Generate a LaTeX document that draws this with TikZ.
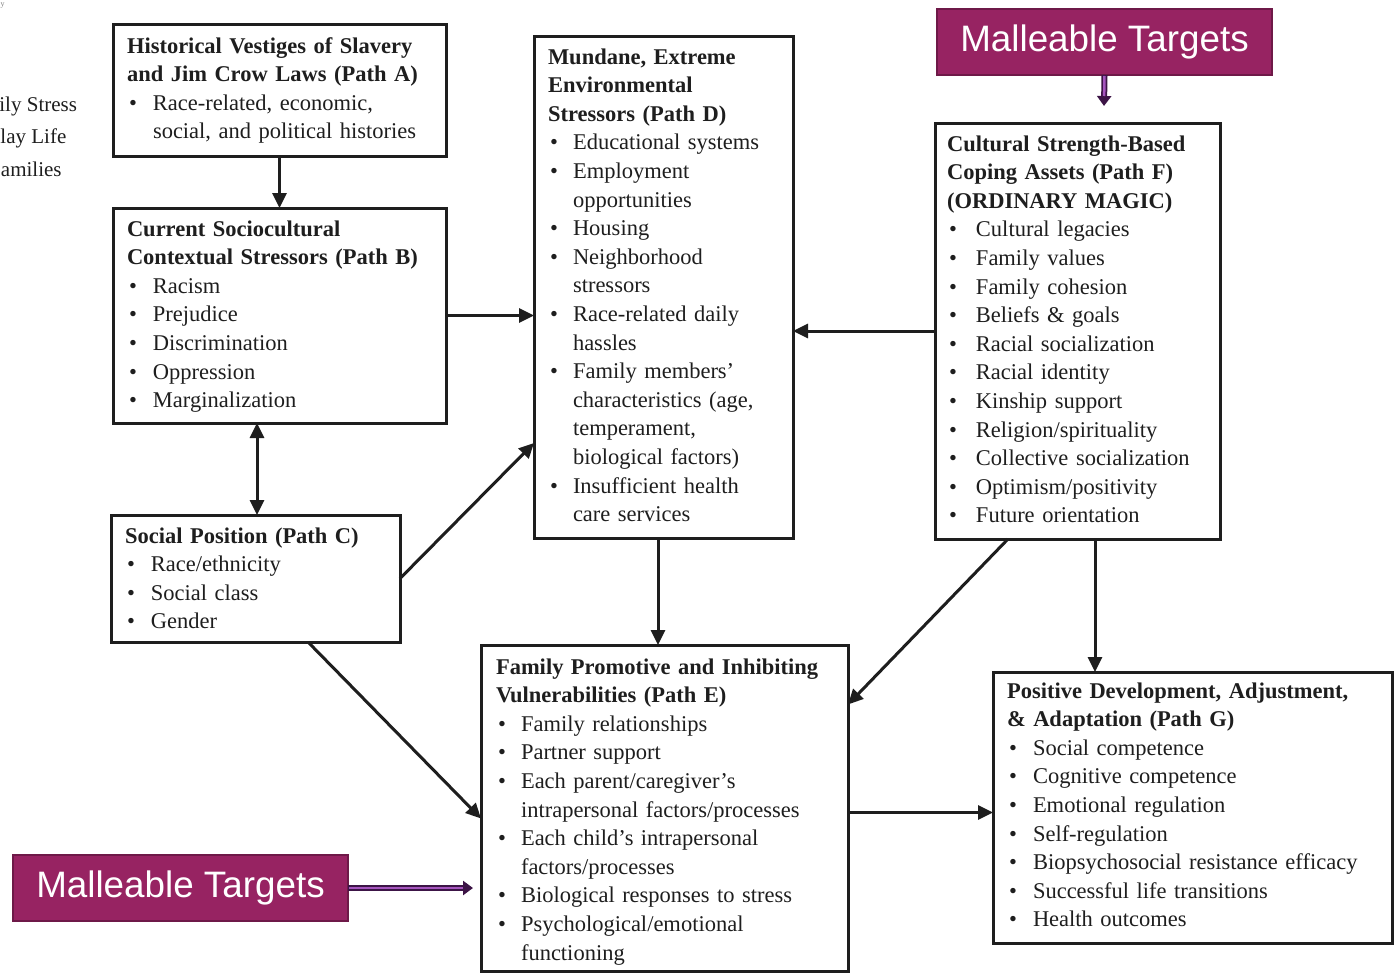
\documentclass[tikz,border=0pt]{standalone}
\usepackage{fontspec}
\setmainfont{Liberation Serif}
\newfontfamily\arialf{Liberation Sans}
\usetikzlibrary{arrows.meta,calc}
\definecolor{ink}{RGB}{30,30,30}
\definecolor{mpurple}{RGB}{151,35,98}
\definecolor{mborder}{RGB}{110,25,72}
\definecolor{adark}{RGB}{60,20,70}
\definecolor{alight}{RGB}{165,85,190}
\newlength\bind
\newcommand\Bu{\makebox[\bind][l]{\hspace{2pt}\textbullet}}
\newcommand\Co{\hspace*{\bind}}
\newcommand\mkbox[5]{\node[box,minimum width={#4-#2},minimum height={#5-#3}] (#1) at ({(#2+#4)/2},{(#3+#5)/2}) {};}
\begin{document}
\begin{tikzpicture}[x=1pt,y=-1pt,
  box/.style={draw=ink,line width=3pt,inner sep=0pt,outer sep=0pt,rectangle},
  txt/.style={anchor=north west,inner sep=0pt,outer sep=0pt,text width=420pt,align=left,
    font=\fontsize{22.5}{28.6}\selectfont,text=ink},
  arr/.style={draw=ink,line width=3pt,-{Triangle[length=15pt,width=14pt]}},
  darr/.style={draw=ink,line width=3pt,{Triangle[length=15pt,width=14pt]}-{Triangle[length=15pt,width=14pt]}},
  mt/.style={fill=mpurple,draw=mborder,line width=1.5pt,inner sep=0pt,outer sep=0pt,text=white,
    font=\arialf\fontsize{36.8}{40}\selectfont},
  clip/.style={inner sep=0pt,outer sep=0pt,font=\fontsize{21}{24}\selectfont,text=ink},
  pd/.style={draw=adark,line width=6pt,-{Triangle[length=10pt,width=14pt]}},
  pl/.style={draw=alight,line width=2.5pt}]
\useasboundingbox (0,0) rectangle (1399,974);
\fill[white] (0,0) rectangle (1399,974);

% cropped background texts
\node[inner sep=0pt,font=\fontsize{8}{9}\selectfont,text=gray,anchor=base west] (cy) at (0.5,7) {y};
\node[clip,anchor=base east] (c1) at (77,111) {ily Stress};
\node[clip,anchor=base west] (c2) at (0.5,143) {lay Life};
\node[clip,anchor=base west] (c3) at (1,176) {amilies};

% boxes
\mkbox{A}{113}{25}{446}{156}
\mkbox{B}{113}{208}{446}{423}
\mkbox{C}{111}{515}{400}{642}
\mkbox{D}{534}{37}{793}{538}
\mkbox{F}{935}{123}{1220}{539}
\mkbox{E}{481}{645}{848}{971}
\mkbox{G}{993}{672}{1392}{943}

% texts
\node[txt] (tA) at (127,33) {\setlength\bind{26pt}\strut\textbf{Historical Vestiges of Slavery}\\
\textbf{and Jim Crow Laws (Path A)}\\
\Bu Race-related, economic,\\
\Co social, and political histories};

\node[txt] (tB) at (127,216) {\setlength\bind{26pt}\strut\textbf{Current Sociocultural}\\
\textbf{Contextual Stressors (Path B)}\\
\Bu Racism\\
\Bu Prejudice\\
\Bu Discrimination\\
\Bu Oppression\\
\Bu Marginalization};

\node[txt] (tC) at (125,523) {\setlength\bind{26pt}\strut\textbf{Social Position (Path C)}\\
\Bu Race/ethnicity\\
\Bu Social class\\
\Bu Gender};

\node[txt] (tD) at (548,44) {\setlength\bind{25pt}\strut\textbf{Mundane, Extreme}\\
\textbf{Environmental}\\
\textbf{Stressors (Path D)}\\
\Bu Educational systems\\
\Bu Employment\\
\Co opportunities\\
\Bu Housing\\
\Bu Neighborhood\\
\Co stressors\\
\Bu Race-related daily\\
\Co hassles\\
\Bu Family members’\\
\Co characteristics (age,\\
\Co temperament,\\
\Co biological factors)\\
\Bu Insufficient health\\
\Co care services};

\node[txt] (tF) at (947,131) {\setlength\bind{29pt}\strut\textbf{Cultural Strength-Based}\\
\textbf{Coping Assets (Path F)}\\
\textbf{(ORDINARY MAGIC)}\\
\Bu Cultural legacies\\
\Bu Family values\\
\Bu Family cohesion\\
\Bu Beliefs \& goals\\
\Bu Racial socialization\\
\Bu Racial identity\\
\Bu Kinship support\\
\Bu Religion/spirituality\\
\Bu Collective socialization\\
\Bu Optimism/positivity\\
\Bu Future orientation};

\node[txt] (tE) at (496,654) {\setlength\bind{25pt}\strut\textbf{Family Promotive and Inhibiting}\\
\textbf{Vulnerabilities (Path E)}\\
\Bu Family relationships\\
\Bu Partner support\\
\Bu Each parent/caregiver’s\\
\Co intrapersonal factors/processes\\
\Bu Each child’s intrapersonal\\
\Co factors/processes\\
\Bu Biological responses to stress\\
\Bu Psychological/emotional\\
\Co functioning};

\node[txt] (tG) at (1007,678) {\setlength\bind{26pt}\strut\textbf{Positive Development, Adjustment,}\\
\textbf{\& Adaptation (Path G)}\\
\Bu Social competence\\
\Bu Cognitive competence\\
\Bu Emotional regulation\\
\Bu Self-regulation\\
\Bu Biopsychosocial resistance efficacy\\
\Bu Successful life transitions\\
\Bu Health outcomes};

% malleable targets
\node[mt,minimum width=335pt,minimum height=66pt] (M1) at (1104.5,42) {Malleable Targets};
\node[mt,minimum width=335pt,minimum height=66pt] (M2) at (180.5,888) {Malleable Targets};
\coordinate (m1e) at (1104,106);
\coordinate (m2e) at (473,888);
\draw[pd] (M1.south) -- (m1e);
\draw[pl,shorten >=10pt,shorten <=1pt] (M1.south) -- (m1e);
\draw[pd] (M2.east) -- (m2e);
\draw[pl,shorten >=10pt,shorten <=1pt] (M2.east) -- (m2e);

% connectors
\draw[arr] (A.south) -- (B.north);
\draw[arr] (B.east) -- (B.east -| D.west);
\draw[darr] ([xshift=-22.5pt]B.south) -- ([xshift=-22.5pt]B.south |- C.north);
\draw[arr] (C.east) -- ([yshift=-155.5pt]D.west);
\draw[arr] ([xshift=52.5pt]C.south) -- ([yshift=-10.5pt]E.west);
\draw[arr] ([xshift=-5.5pt]D.south) -- ([xshift=-5.5pt]D.south |- E.north);
\draw[arr] (F.west) -- (F.west -| D.east);
\draw[arr] ([xshift=-69.5pt]F.south) -- ([yshift=103.5pt]E.east);
\draw[arr] ([xshift=17.5pt]F.south) -- ([xshift=17.5pt]F.south |- G.north);
\draw[arr] ([yshift=-4.5pt]E.east) -- ([yshift=-4.5pt]E.east -| G.west);
\end{tikzpicture}
\end{document}
